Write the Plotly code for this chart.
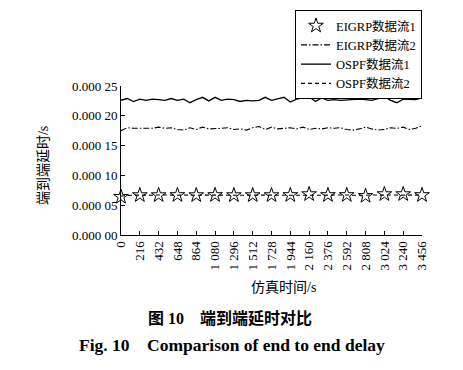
import plotly.graph_objects as go

# ---- data ----
x_line = [i * 72 for i in range(49)]
x_star = [i * 216 for i in range(17)]
x_tick_vals = [i * 216 for i in range(17)]
x_tick_text = ["0", "216", "432", "648", "864", "1 080", "1 296", "1 512", "1 728",
               "1 944", "2 160", "2 376", "2 592", "2 808", "3 024", "3 240", "3 456"]
y_tick_vals = [0, 0.00005, 0.0001, 0.00015, 0.0002, 0.00025]
y_tick_text = ["0.000 00", "0.000 05", "0.000 10", "0.000 15", "0.000 20", "0.000 25"]

eigrp1 = [0.0000640, 0.0000668, 0.0000668, 0.0000670, 0.0000668, 0.0000670, 0.0000668,
          0.0000668, 0.0000668, 0.0000670, 0.0000685, 0.0000670, 0.0000670, 0.0000655,
          0.0000685, 0.0000685, 0.0000670]
eigrp2 = [0.000175, 0.000180, 0.000179, 0.000179, 0.000180, 0.000179, 0.000181, 0.000179,
          0.000180, 0.000177, 0.000176, 0.000180, 0.000177, 0.000181, 0.000178, 0.000178,
          0.000179, 0.000180, 0.000177, 0.000178, 0.000176, 0.000180, 0.000182, 0.000177,
          0.000181, 0.000178, 0.000179, 0.000180, 0.000178, 0.000181, 0.000177, 0.000179,
          0.000178, 0.000180, 0.000179, 0.000180, 0.000177, 0.000176, 0.000178, 0.000181,
          0.000178, 0.000176, 0.000177, 0.000180, 0.000179, 0.000181, 0.000177, 0.000179,
          0.000183]
ospf1 = [0.000226, 0.000229, 0.000224, 0.000228, 0.000226, 0.000228, 0.000227, 0.000226,
         0.000229, 0.000226, 0.000228, 0.000222, 0.000227, 0.000231, 0.000225, 0.000231,
         0.000226, 0.000228, 0.000227, 0.000224, 0.000226, 0.000225, 0.000226, 0.000231,
         0.000226, 0.000229, 0.000231, 0.000223, 0.000228, 0.000230, 0.000232, 0.000224,
         0.000230, 0.000226, 0.000227, 0.000226, 0.000227, 0.000228, 0.000228, 0.000227,
         0.000226, 0.000229, 0.000232, 0.000226, 0.000222, 0.000228, 0.000228, 0.000227,
         0.000230]
ospf2 = [0.0000655, 0.0000665, 0.0000668, 0.0000670, 0.0000666, 0.0000668, 0.0000672,
         0.0000667, 0.0000665, 0.0000668, 0.0000671, 0.0000666, 0.0000667, 0.0000670,
         0.0000668, 0.0000672, 0.0000666, 0.0000668, 0.0000670, 0.0000667, 0.0000669,
         0.0000672, 0.0000666, 0.0000668, 0.0000670, 0.0000667, 0.0000673, 0.0000668,
         0.0000666, 0.0000670, 0.0000672, 0.0000667, 0.0000668, 0.0000671, 0.0000666,
         0.0000669, 0.0000672, 0.0000667, 0.0000664, 0.0000668, 0.0000671, 0.0000666,
         0.0000669, 0.0000672, 0.0000667, 0.0000668, 0.0000670, 0.0000667, 0.0000668]

names = ["EIGRP数据流1", "EIGRP数据流2", "OSPF数据流1", "OSPF数据流2"]

FONT = "Liberation Serif, Noto Sans CJK SC, serif"

fig = go.Figure()
fig.add_trace(go.Scatter(x=x_star, y=eigrp1, mode="markers", name=names[0], cliponaxis=False,
                         marker=dict(symbol="star-open", size=11, color="black",
                                     line=dict(color="black", width=1))))
fig.add_trace(go.Scatter(x=x_line, y=eigrp2, mode="lines", name=names[1],
                         line=dict(color="black", width=1.1, dash="6px,2px,1.5px,2px")))
fig.add_trace(go.Scatter(x=x_line, y=ospf1, mode="lines", name=names[2],
                         line=dict(color="black", width=1.3)))
fig.add_trace(go.Scatter(x=x_line, y=ospf2, mode="lines", name=names[3],
                         line=dict(color="black", width=1.1, dash="4px,3px")))

# the page body has an 8px margin, so the figure is sized to fill the rest of the window
fig.update_layout(
    width=455, height=362, autosize=False,
    margin=dict(l=113, r=41, t=78, b=135, autoexpand=False),
    paper_bgcolor="white", plot_bgcolor="white",
    font=dict(family=FONT, size=13, color="black"),
    showlegend=True,
    legend=dict(x=1.0, xanchor="right", y=1.51, yanchor="top",
                bordercolor="black", borderwidth=1, bgcolor="white",
                font=dict(family=FONT, size=12.5, color="black"),
                tracegroupgap=0, itemwidth=30),
    xaxis=dict(range=[0, 3456], tickmode="array", tickvals=x_tick_vals, ticktext=x_tick_text,
               tickangle=-90, ticks="inside", ticklen=4, tickcolor="black",
               showline=True, linecolor="black", linewidth=1, showgrid=False, zeroline=False,
               tickfont=dict(family=FONT, size=13)),
    yaxis=dict(range=[0, 0.00025], tickmode="array", tickvals=y_tick_vals, ticktext=y_tick_text,
               ticks="inside", ticklen=4, tickcolor="black",
               showline=True, linecolor="black", linewidth=1, showgrid=False, zeroline=False,
               tickfont=dict(family=FONT, size=13)),
)

fig.add_annotation(text="端到端延时/s", xref="paper", yref="paper", x=-0.259, y=0.463,
                   textangle=-90, showarrow=False, xanchor="center", yanchor="middle",
                   font=dict(family=FONT, size=14))
fig.add_annotation(text="仿真时间/s", xref="paper", yref="paper", x=0.5415, y=-0.349,
                   showarrow=False, xanchor="center", yanchor="middle",
                   font=dict(family=FONT, size=14))
fig.add_annotation(text="<b>图 10　端到端延时对比</b>", xref="paper", yref="paper",
                   x=(230 - 121) / 301, y=(235 - 318) / 149, showarrow=False,
                   xanchor="center", yanchor="middle",
                   font=dict(family="Liberation Serif, Noto Sans CJK SC", size=16))
fig.add_annotation(text="<b>Fig. 10　Comparison of end to end delay</b>", xref="paper", yref="paper",
                   x=(232 - 121) / 301, y=(235 - 345) / 149, showarrow=False,
                   xanchor="center", yanchor="middle",
                   font=dict(family="Liberation Serif, Noto Sans CJK SC", size=17.5))

fig.write_html("out.html")
